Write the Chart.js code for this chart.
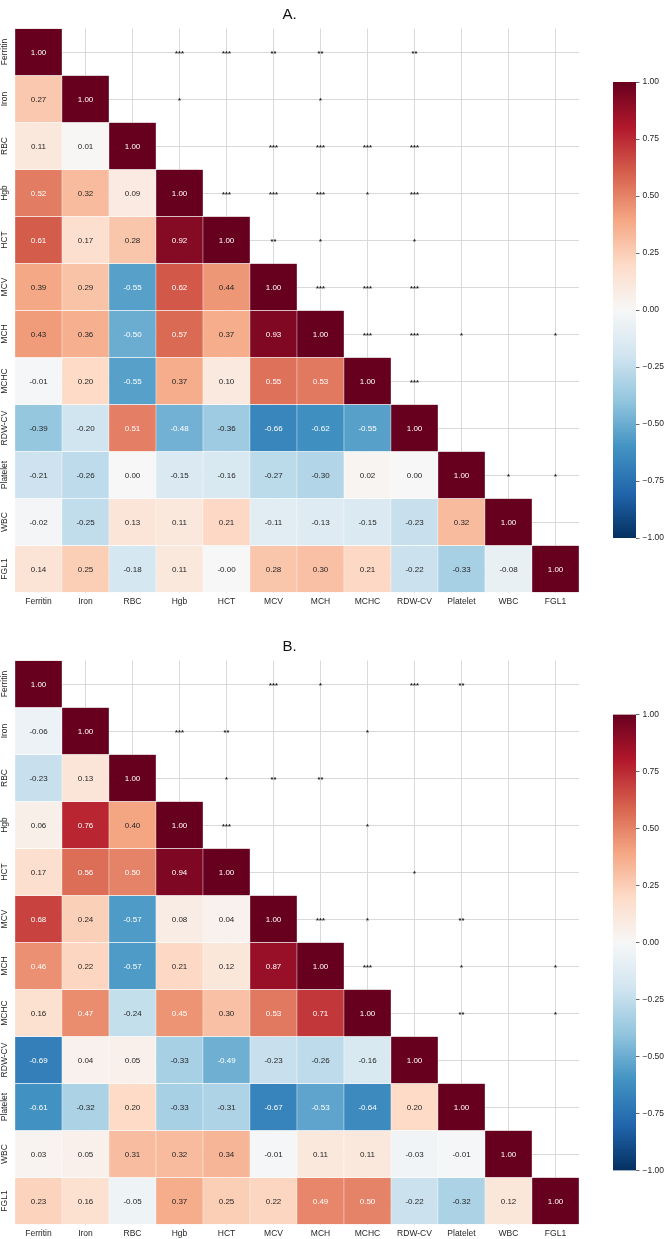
<!DOCTYPE html>
<html>
<head>
<meta charset="utf-8">
<script src="https://cdn.jsdelivr.net/npm/chart.js@4.4.1/dist/chart.umd.min.js"></script>
<style>
  body { margin: 0; background: #fff; width: 664px; height: 1239px; position: relative; overflow: hidden; }
  .box { position: absolute; }
</style>
</head>
<body>
<div class="box" style="left:0;top:0;width:600px;height:620px"><canvas id="heatA"></canvas></div>
<div class="box" style="left:590px;top:60px;width:74px;height:500px"><canvas id="barA"></canvas></div>
<div class="box" style="left:0;top:620px;width:600px;height:619px"><canvas id="heatB"></canvas></div>
<div class="box" style="left:590px;top:692px;width:74px;height:500px"><canvas id="barB"></canvas></div>
<script>
const labels = ["Ferritin", "Iron", "RBC", "Hgb", "HCT", "MCV", "MCH", "MCHC", "RDW-CV", "Platelet", "WBC", "FGL1"];

// lower triangle, row by row
const corrA = [
  [1.00],
  [0.27, 1.00],
  [0.11, 0.01, 1.00],
  [0.52, 0.32, 0.09, 1.00],
  [0.61, 0.17, 0.28, 0.92, 1.00],
  [0.39, 0.29, -0.55, 0.62, 0.44, 1.00],
  [0.43, 0.36, -0.50, 0.57, 0.37, 0.93, 1.00],
  [-0.01, 0.20, -0.55, 0.37, 0.10, 0.55, 0.53, 1.00],
  [-0.39, -0.20, 0.51, -0.48, -0.36, -0.66, -0.62, -0.55, 1.00],
  [-0.21, -0.26, 0.00, -0.15, -0.16, -0.27, -0.30, 0.02, 0.00, 1.00],
  [-0.02, -0.25, 0.13, 0.11, 0.21, -0.11, -0.13, -0.15, -0.23, 0.32, 1.00],
  [0.14, 0.25, -0.18, 0.11, -0.00, 0.28, 0.30, 0.21, -0.22, -0.33, -0.08, 1.00]
];

const corrB = [
  [1.00],
  [-0.06, 1.00],
  [-0.23, 0.13, 1.00],
  [0.06, 0.76, 0.40, 1.00],
  [0.17, 0.56, 0.50, 0.94, 1.00],
  [0.68, 0.24, -0.57, 0.08, 0.04, 1.00],
  [0.46, 0.22, -0.57, 0.21, 0.12, 0.87, 1.00],
  [0.16, 0.47, -0.24, 0.45, 0.30, 0.53, 0.71, 1.00],
  [-0.69, 0.04, 0.05, -0.33, -0.49, -0.23, -0.26, -0.16, 1.00],
  [-0.61, -0.32, 0.20, -0.33, -0.31, -0.67, -0.53, -0.64, 0.20, 1.00],
  [0.03, 0.05, 0.31, 0.32, 0.34, -0.01, 0.11, 0.11, -0.03, -0.01, 1.00],
  [0.23, 0.16, -0.05, 0.37, 0.25, 0.22, 0.49, 0.50, -0.22, -0.32, 0.12, 1.00]
];

// significance marks in the upper triangle: [row, column, mark]
const starsA = [
  [0, 3, "***"], [0, 4, "***"], [0, 5, "**"], [0, 6, "**"], [0, 8, "**"],
  [1, 3, "*"], [1, 6, "*"],
  [2, 5, "***"], [2, 6, "***"], [2, 7, "***"], [2, 8, "***"],
  [3, 4, "***"], [3, 5, "***"], [3, 6, "***"], [3, 7, "*"], [3, 8, "***"],
  [4, 5, "**"], [4, 6, "*"], [4, 8, "*"],
  [5, 6, "***"], [5, 7, "***"], [5, 8, "***"],
  [6, 7, "***"], [6, 8, "***"], [6, 9, "*"], [6, 11, "*"],
  [7, 8, "***"],
  [9, 10, "*"], [9, 11, "*"]
];

const starsB = [
  [0, 5, "***"], [0, 6, "*"], [0, 8, "***"], [0, 9, "**"],
  [1, 3, "***"], [1, 4, "**"], [1, 7, "*"],
  [2, 4, "*"], [2, 5, "**"], [2, 6, "**"],
  [3, 4, "***"], [3, 7, "*"],
  [4, 8, "*"],
  [5, 6, "***"], [5, 7, "*"], [5, 9, "**"],
  [6, 7, "***"], [6, 9, "*"], [6, 11, "*"],
  [7, 9, "**"], [7, 11, "*"]
];

const colorbarTicks = [-1, -0.75, -0.5, -0.25, 0, 0.25, 0.5, 0.75, 1];

// RdBu reversed (blue at -1, red at +1)
const rdbuR = ["#053061", "#2166ac", "#4393c3", "#92c5de", "#d1e5f0", "#f7f7f7",
               "#fddbc7", "#f4a582", "#d6604d", "#b2182b", "#67001f"];

const FONT = "'Liberation Sans', Arial, sans-serif";

function hexToRgb(h) {
  return [parseInt(h.slice(1, 3), 16), parseInt(h.slice(3, 5), 16), parseInt(h.slice(5, 7), 16)];
}

function cmapRgb(v) {
  const t = (Math.max(-1, Math.min(1, v)) + 1) / 2 * 10;
  const i = Math.min(9, Math.floor(t));
  const f = t - i;
  const a = hexToRgb(rdbuR[i]);
  const b = hexToRgb(rdbuR[i + 1]);
  return a.map((c, k) => Math.round(c + (b[k] - c) * f));
}

function cmap(v) {
  const c = cmapRgb(v);
  return `rgb(${c[0]},${c[1]},${c[2]})`;
}

// same rule seaborn uses to pick the annotation colour
function textColor(v) {
  const lin = cmapRgb(v).map((c) => {
    c = c / 255;
    return c <= 0.03928 ? c / 12.92 : Math.pow((c + 0.055) / 1.055, 2.4);
  });
  const lum = 0.2126 * lin[0] + 0.7152 * lin[1] + 0.0722 * lin[2];
  return lum > 0.408 ? "#262626" : "#ffffff";
}

function fmt(v) {
  const neg = v < 0 || Object.is(v, -0);
  return (neg ? "-" : "") + Math.abs(v).toFixed(2);
}

function makeHeatmap(id, title, corr, stars, titlePad, xAxisHeight) {
  const datasets = corr.map((row, i) => ({
    data: labels.map((_, j) => (j <= i ? [i - 0.5, i + 0.5] : null)),
    backgroundColor: labels.map((_, j) => (j <= i ? cmap(row[j]) : "transparent")),
    borderColor: "#ffffff",
    borderWidth: 0.5,
    borderSkipped: false,
    grouped: false,
    categoryPercentage: 1,
    barPercentage: 1,
  }));

  const annotate = {
    id: "annotate",
    afterDatasetsDraw(chart) {
      const ctx = chart.ctx;
      const xs = chart.scales.x;
      const ys = chart.scales.y;
      ctx.save();
      ctx.textAlign = "center";

      // values in the cells
      ctx.font = "8px " + FONT;
      ctx.textBaseline = "middle";
      corr.forEach((row, i) => {
        row.forEach((v, j) => {
          ctx.fillStyle = textColor(v);
          ctx.fillText(fmt(v), xs.getPixelForValue(j), ys.getPixelForValue(i) + 0.5);
        });
      });

      // significance stars
      ctx.font = "bold 7.5px " + FONT;
      ctx.textBaseline = "alphabetic";
      ctx.fillStyle = "#1a1a1a";
      stars.forEach(([i, j, s]) => {
        ctx.fillText(s, xs.getPixelForValue(j), ys.getPixelForValue(i) + 3.5);
      });

      // rotated row labels
      ctx.font = "8.5px " + FONT;
      ctx.fillStyle = "#262626";
      ctx.textBaseline = "middle";
      labels.forEach((lab, i) => {
        ctx.save();
        ctx.translate(5, ys.getPixelForValue(i));
        ctx.rotate(-Math.PI / 2);
        ctx.fillText(lab, 0, 0);
        ctx.restore();
      });
      ctx.restore();
    },
  };

  return new Chart(document.getElementById(id), {
    type: "bar",
    data: { labels: labels, datasets: datasets },
    options: {
      responsive: true,
      maintainAspectRatio: false,
      animation: false,
      layout: { padding: { left: 0, right: 21, top: 0, bottom: 0 } },
      plugins: {
        legend: { display: false },
        tooltip: { enabled: false },
        title: {
          display: true,
          text: title,
          color: "#111111",
          font: { family: FONT, size: 15, weight: "normal", lineHeight: 1.12 },
          padding: titlePad,
        },
      },
      scales: {
        x: {
          type: "category",
          offset: true,
          grid: { offset: false, color: "#d9d9d9", lineWidth: 1, drawTicks: false },
          border: { display: false },
          ticks: {
            color: "#262626",
            font: { family: FONT, size: 8.5 },
            padding: 4,
            maxRotation: 0,
            autoSkip: false,
          },
          afterFit: (s) => { s.height = xAxisHeight; },
        },
        y: {
          type: "linear",
          min: -0.5,
          max: 11.5,
          reverse: true,
          afterBuildTicks: (s) => { s.ticks = labels.map((_, i) => ({ value: i })); },
          grid: { color: "#d9d9d9", lineWidth: 1, drawTicks: false },
          border: { display: false },
          ticks: { display: false },
          afterFit: (s) => { s.width = 15; },
        },
      },
    },
    plugins: [annotate],
  });
}

function makeColorbar(id, padTop, padBottom) {
  return new Chart(document.getElementById(id), {
    type: "bar",
    data: {
      labels: [""],
      datasets: [{
        data: [[-1, 1]],
        backgroundColor: function (context) {
          const chart = context.chart;
          if (!chart.chartArea) return "#f7f7f7";
          const ys = chart.scales.y;
          const g = chart.ctx.createLinearGradient(0, ys.getPixelForValue(-1), 0, ys.getPixelForValue(1));
          rdbuR.forEach((c, i) => g.addColorStop(i / 10, c));
          return g;
        },
        borderWidth: 0,
        categoryPercentage: 1,
        barPercentage: 1,
      }],
    },
    options: {
      responsive: true,
      maintainAspectRatio: false,
      animation: false,
      layout: { padding: { left: 23, right: 0, top: padTop, bottom: padBottom } },
      plugins: { legend: { display: false }, tooltip: { enabled: false } },
      scales: {
        x: { display: false },
        y: {
          position: "right",
          min: -1,
          max: 1,
          afterBuildTicks: (s) => { s.ticks = colorbarTicks.map((v) => ({ value: v })); },
          grid: { drawOnChartArea: false, tickLength: 3.5, tickColor: "#444444", tickWidth: 0.8 },
          border: { display: false },
          ticks: {
            color: "#262626",
            font: { family: FONT, size: 8.5 },
            padding: 3,
            callback: (v) => (v < 0 ? "\u2212" : "") + Math.abs(v).toFixed(2),
          },
          afterFit: (s) => { s.width = 28; },
        },
      },
    },
  });
}

makeHeatmap("heatA", "A.", corrA, starsA, { top: 6.1, bottom: 5.6 }, 27.5);
makeHeatmap("heatB", "B.", corrB, starsB, { top: 18.1, bottom: 5.6 }, 14.5);
makeColorbar("barA", 22, 22);
makeColorbar("barB", 22.5, 21.5);
</script>
</body>
</html>
